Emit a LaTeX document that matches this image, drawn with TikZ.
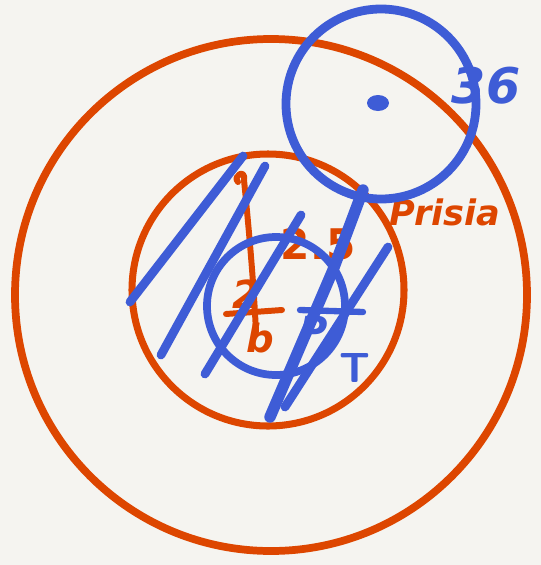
\documentclass[tikz,border=0pt]{standalone}
\usepackage{fontspec}
\setmainfont{DejaVu Sans}
\usetikzlibrary{positioning}

\definecolor{paper}{RGB}{245,244,240}
\definecolor{inkorange}{RGB}{221,70,0}
\definecolor{inkblue}{RGB}{62,92,214}

\tikzset{
  orangeink/.style={draw=inkorange,line width=4.4pt,line cap=round,line join=round},
  blueink/.style={draw=inkblue,line width=5pt,line cap=round,line join=round},
  scribble/.style={font=\fontsize{22}{22}\selectfont\bfseries\itshape,inner sep=0pt}
}

\begin{document}
\begin{tikzpicture}[x=0.02cm,y=-0.02cm]
    \fill[paper] (0,0) rectangle (541,565);
    \useasboundingbox (0,0) rectangle (541,565);

    % orange circles
    \draw[orangeink] (271,295) circle (256);
    \draw[orangeink,line width=4pt] (268,290) circle (136);

    % orange marks inside
    \draw[orangeink,line width=3.4pt] (238,182) .. controls (232,176) and (246,168) .. (244,180)
        .. controls (250,240) and (254,290) .. (256,332);
    \node[scribble,text=inkorange] (two) at (246,294) {2};
    \draw[orangeink,line width=3.4pt] (226,314) -- (282,310);
    \node[scribble,text=inkorange] (bee) at (260,338) {b};
    \node[scribble,text=inkorange,font=\fontsize{24}{24}\selectfont\bfseries] (half) at (318,244) {2.5};
    \node[scribble,text=inkorange,font=\fontsize{20}{20}\selectfont\bfseries\itshape] (prisia) at (445,212) {Prisia};

    % blue circles
    \draw[blueink] (381,104) circle (95);
    \draw[blueink,line width=4.4pt] (276,306) circle (69);
    \fill[inkblue] (378,103) ellipse (11 and 8);
    \node[scribble,text=inkblue,font=\fontsize{28}{28}\selectfont\bfseries\itshape] (num) at (486,86) {36};

    % blue hatching strokes
    \draw[blueink] (130,302) -- (243,156);
    \draw[blueink] (161,355) -- (265,166);
    \draw[blueink] (205,374) -- (301,215);
    \draw[blueink,line width=6.5pt] (363,190) -- (333,270) -- (270,417);
    \draw[blueink] (285,407) -- (388,247);
    \draw[blueink,line width=3.6pt] (300,310) -- (363,312);
    \node[scribble,text=inkblue] (pee) at (314,330) {P};
    \node[scribble,text=inkblue,font=\fontsize{24}{24}\selectfont\bfseries\sffamily] (tee) at (355,368) {T};
\end{tikzpicture}
\end{document}
